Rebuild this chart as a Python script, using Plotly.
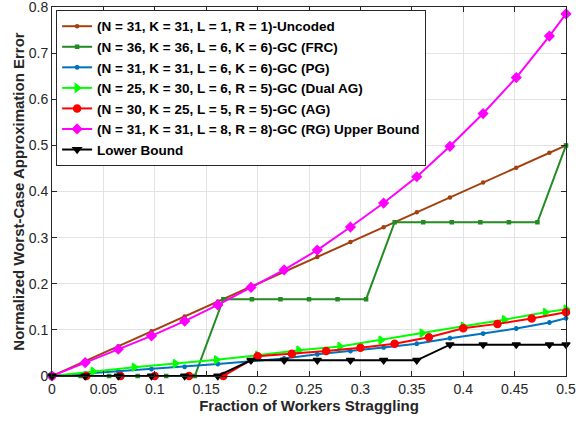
import plotly.graph_objects as go

# ---- data ----
x31 = [0, 1/31, 2/31, 3/31, 4/31, 5/31, 6/31, 7/31, 8/31, 9/31, 10/31, 11/31, 12/31, 13/31, 14/31, 15/31, 0.5]
x36 = [s/36 for s in range(19)]
x30 = [s/30 for s in range(16)]
x25 = [0, 0.04, 0.08, 0.12, 0.16, 0.20, 0.24, 0.28, 0.32, 0.36, 0.40, 0.44, 0.48, 0.5]

y_uncoded = [0, 1/31, 2/31, 3/31, 4/31, 5/31, 6/31, 7/31, 8/31, 9/31, 10/31, 11/31, 12/31, 13/31, 14/31, 15/31, 0.5]
y_frc = [0, 0, 0, 0, 0, 0, 1/6, 1/6, 1/6, 1/6, 1/6, 1/6, 1/3, 1/3, 1/3, 1/3, 1/3, 1/3, 0.5]
y_pg = [0, 0.005, 0.010, 0.015, 0.020, 0.026, 0.032, 0.038, 0.047, 0.054, 0.062, 0.070, 0.082, 0.092, 0.103, 0.116, 0.125]
y_dual = [0, 0.010, 0.019, 0.027, 0.035, 0.045, 0.056, 0.064, 0.078, 0.093, 0.108, 0.122, 0.138, 0.145]
y_ag = [0, 0, 0, 0, 0, 0, 0.043, 0.048, 0.054, 0.061, 0.070, 0.084, 0.1035, 0.113, 0.1245, 0.138]
y_rg = [0, 0.029, 0.058, 0.087, 0.119, 0.154, 0.192, 0.230, 0.273, 0.323, 0.375, 0.432, 0.498, 0.569, 0.647, 0.737, 0.785]
y_lb = [0, 0, 0, 0, 0, 0, 0.034, 0.034, 0.034, 0.034, 0.034, 0.034, 0.068, 0.068, 0.068, 0.068, 0.068]

xticks = [0, 0.05, 0.1, 0.15, 0.2, 0.25, 0.3, 0.35, 0.4, 0.45, 0.5]
xticktext = ["0", "0.05", "0.1", "0.15", "0.2", "0.25", "0.3", "0.35", "0.4", "0.45", "0.5"]
yticks = [0, 0.1, 0.2, 0.3, 0.4, 0.5, 0.6, 0.7, 0.8]
yticktext = ["0", "0.1", "0.2", "0.3", "0.4", "0.5", "0.6", "0.7", "0.8"]

names = [
    "(N = 31, K = 31, L = 1, R = 1)-Uncoded",
    "(N = 36, K = 36, L = 6, K = 6)-GC (FRC)",
    "(N = 31, K = 31, L = 6, K = 6)-GC (PG)",
    "(N = 25, K = 30, L = 6, R = 5)-GC (Dual AG)",
    "(N = 30, K = 25, L = 5, R = 5)-GC (AG)",
    "(N = 31, K = 31, L = 8, R = 8)-GC (RG) Upper Bound",
    "Lower Bound",
]

series = [
    (x31, y_uncoded, "#A2400F", "circle", 3),
    (x36, y_frc, "#228B22", "square", 3),
    (x31, y_pg, "#0072BD", "asterisk-open", 4),
    (x25, y_dual, "#00FF00", "triangle-right", 7),
    (x30, y_ag, "#FF0000", "circle", 7),
    (x31, y_rg, "#FF00FF", "diamond", 7),
    (x31, y_lb, "#000000", "triangle-down", 7),
]

fig = go.Figure()
for (xs, ys, col, sym, sz), nm in zip(series, names):
    fig.add_trace(go.Scatter(
        x=xs, y=ys, name="<b>" + nm + "</b>", mode="lines+markers",
        line=dict(color=col, width=2),
        marker=dict(color=col, symbol=sym, size=sz, line=dict(color=col, width=1.5)),
        cliponaxis=False,
    ))

axis_common = dict(
    showgrid=True, gridcolor="#E3E3E3", gridwidth=1,
    zeroline=False, showline=True, linecolor="#262626", linewidth=1,
    mirror="allticks", ticks="inside", ticklen=5, tickcolor="#262626",
    tickfont=dict(family="Liberation Sans", size=14, color="#262626"),
    automargin=False, tickprefix="<b>", ticksuffix="</b>",
    ticklabeloverflow="allow",
)

fig.update_layout(
    width=576, height=423,
    margin=dict(l=52, r=10, t=7, b=47),
    paper_bgcolor="white", plot_bgcolor="white",
    font=dict(family="Liberation Sans", color="#262626"),
    showlegend=True,
    legend=dict(
        x=0.008, y=0.992, xanchor="left", yanchor="top",
        bgcolor="white", bordercolor="#262626", borderwidth=1,
        font=dict(family="Liberation Sans", size=13.5, color="black"),
        itemwidth=30, tracegroupgap=0,
    ),
    xaxis=dict(range=[0, 0.5], tickvals=xticks, ticktext=xticktext,
               title=dict(text="<b>Fraction of Workers Straggling</b>", font=dict(size=15), standoff=2),
               **axis_common),
    yaxis=dict(range=[0, 0.8], tickvals=yticks, ticktext=yticktext,
               title=dict(text="<b>Normalized Worst-Case Approximation Error</b>", font=dict(size=15), standoff=0),
               **axis_common),
)

fig.write_html("out.html", config={"displayModeBar": False},
               post_script="document.body.style.margin='0';")
